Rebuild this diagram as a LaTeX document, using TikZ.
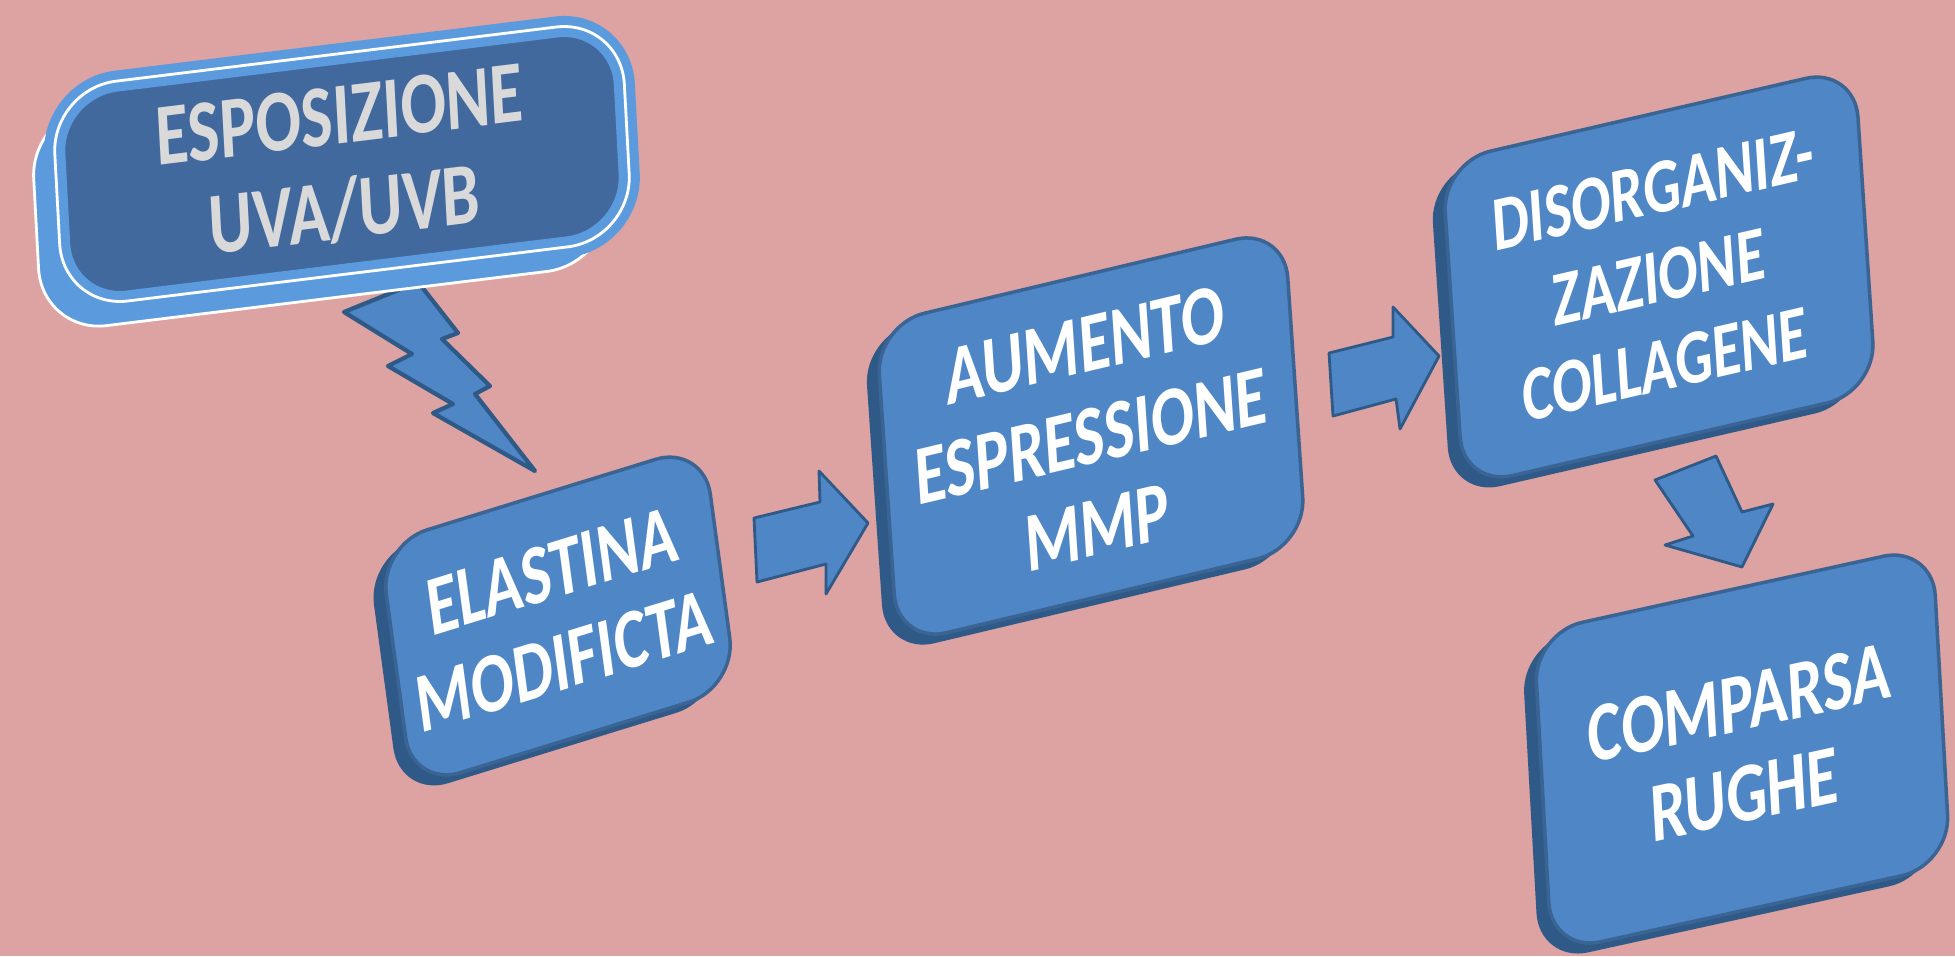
\documentclass[tikz,border=0pt]{standalone}
\usepackage{fontspec}
\setmainfont{Carlito}
\usetikzlibrary{calc,shadows}

\definecolor{bgpink}{HTML}{DDA2A2}
\definecolor{boxblue}{HTML}{4F86C6}
\definecolor{rimblue}{HTML}{2F5A88}
\definecolor{edgeblue}{HTML}{3A6494}
\definecolor{facedark}{HTML}{41699D}
\definecolor{rimlight}{HTML}{5B9BDD}
\definecolor{textgray}{HTML}{D9D9D9}

\tikzset{
  basebox/.style={rectangle, transform shape, align=center, inner sep=0pt,
    font=\bfseries\fontsize{24}{26}\selectfont},
  flowbox/.style={basebox, rounded corners=0.5cm, fill=boxblue, draw=edgeblue,
    line width=1pt, text=white,
    general shadow={fill=rimblue, shadow xshift=-3.5pt, shadow yshift=-3pt},
    general shadow={fill=rimblue, shadow xshift=-1.8pt, shadow yshift=-1.5pt}},
  uvbox/.style={basebox, rounded corners=0.65cm, fill=facedark, draw=rimlight,
    line width=6pt, text=textgray, font=\bfseries\fontsize{25}{27}\selectfont,
    postaction={draw=white, line width=0.8pt},
    general shadow={fill=rimlight, draw=white, line width=0.8pt,
      shadow xshift=-6pt, shadow yshift=-7pt},
    general shadow={fill=rimlight, shadow xshift=-3pt, shadow yshift=-3.5pt}},
  flowarrow/.style={fill=boxblue, draw=rimblue, line width=0.8pt, line join=round},
  bolt/.style={fill=boxblue, draw=rimblue, line width=1.2pt, line join=round}
}

\begin{document}
\begin{tikzpicture}[x=0.01cm, y=0.01cm]
  \fill[bgpink] (0,0) rectangle (1955,956);
  \useasboundingbox (0,0) rectangle (1955,956);

  % lightning below the UV box
  \draw[bolt] (418,674) -- (458,623) -- (442,617) -- (490,570) -- (475,562) -- (535,485)
    -- (433,543) -- (453,552) -- (388,590) -- (412,602) -- (344,644) -- cycle;

  \node[uvbox, minimum width=7.45cm, minimum height=2.2cm,
    cm={0.764,0.094,-0.054,0.9985,(342,792)}] (esposizione) at (0,0) {ESPOSIZIONE\\UVA/UVB};
  \node[flowbox, minimum width=4.4cm, minimum height=2.45cm,
    cm={0.736,0.227,-0.134,0.991,(558,340)}] (elastina) at (0,0) {ELASTINA\\MODIFICTA};
  \node[flowbox, minimum width=5.45cm, minimum height=3.2cm,
    cm={0.749,0.178,-0.068,0.998,(1091,520)}] (aumento) at (0,0) {AUMENTO\\ESPRESSIONE\\MMP};
  \node[flowbox, minimum width=5.5cm, minimum height=3.25cm,
    font=\bfseries\fontsize{22}{25}\selectfont,
    cm={0.750,0.173,-0.066,0.998,(1659,679)}] (disorganiz) at (0,0) {DISORGANIZ-\\ZAZIONE\\COLLAGENE};
  \node[flowbox, minimum width=5.3cm, minimum height=3.2cm,
    cm={0.752,0.165,-0.056,0.998,(1742,207)}] (comparsa) at (0,0) {COMPARSA\\RUGHE};

  % block arrows between the boxes
  \draw[flowarrow] (754,438) -- (820,454) -- (819,485) -- (868,433) -- (826,362) -- (826,392)
    -- (757,374) -- cycle;
  \draw[flowarrow] (1329,603) -- (1393,619) -- (1393,649) -- (1439,600) -- (1400,527) -- (1396,557)
    -- (1333,540) -- cycle;
  \draw[flowarrow] (1655,476) -- (1716,500) -- (1742,444) -- (1773,452) -- (1742,389) -- (1665,411)
    -- (1693,420) -- cycle;
\end{tikzpicture}
\end{document}
